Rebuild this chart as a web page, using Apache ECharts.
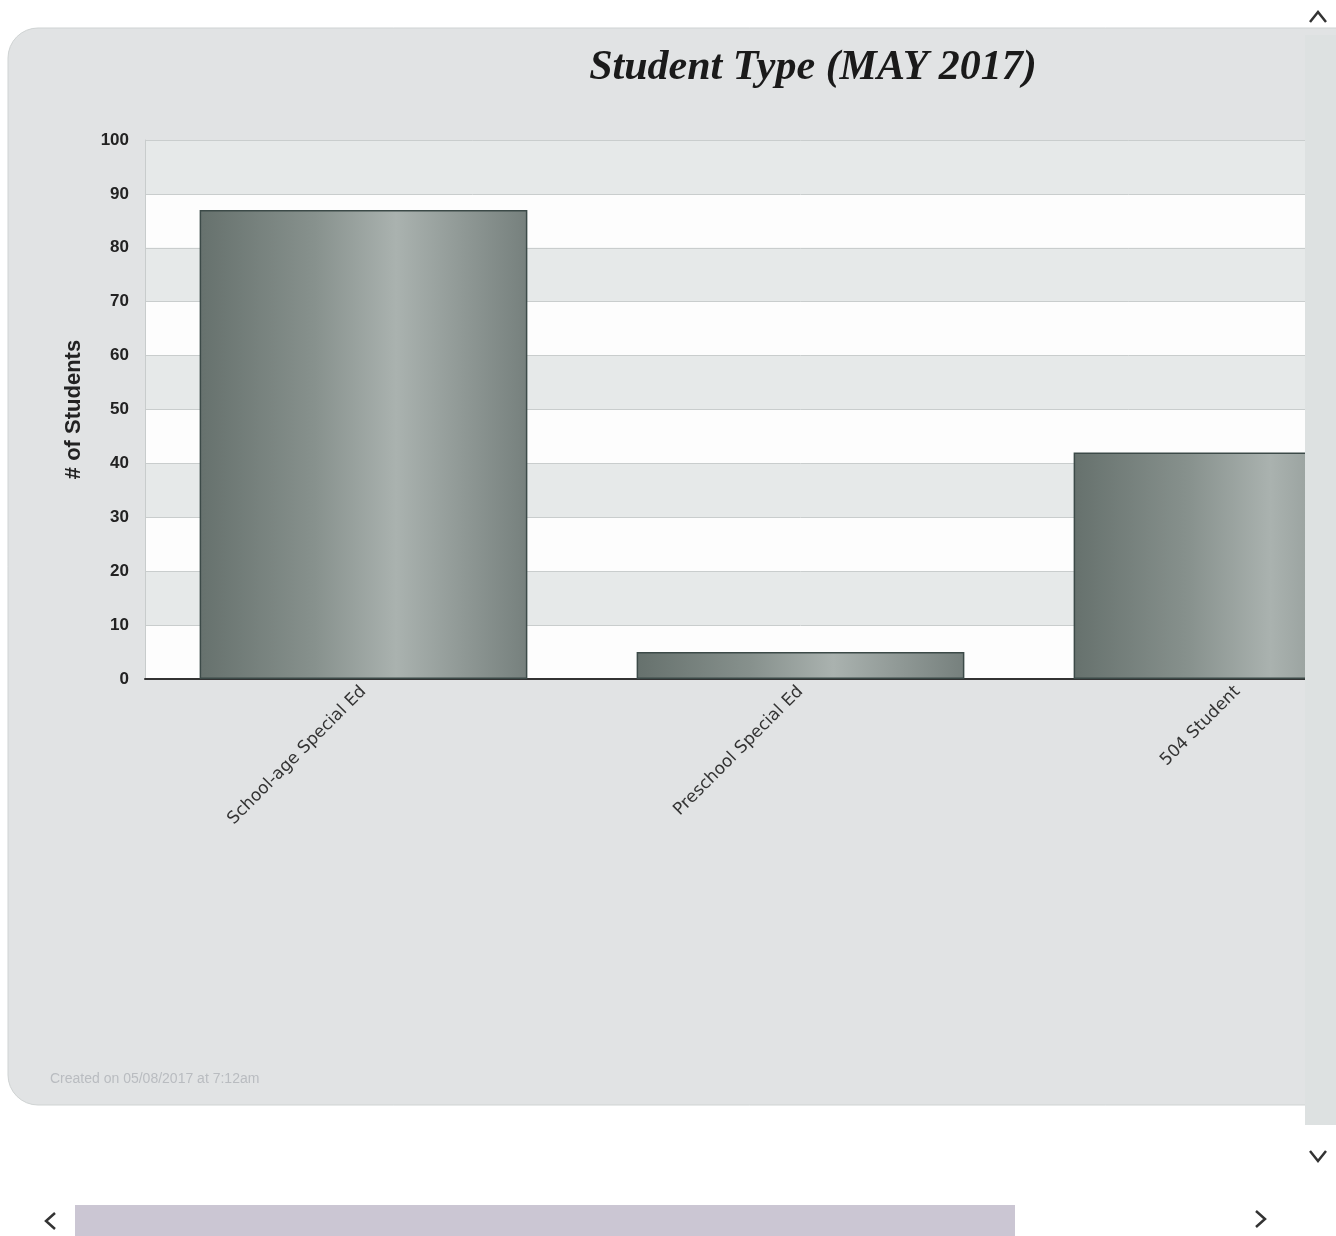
<!DOCTYPE html>
<html>
<head>
<meta charset="utf-8">
<script src="https://cdn.jsdelivr.net/npm/echarts@6/dist/echarts.min.js"></script>
<style>html,body{margin:0;padding:0;background:#fff;overflow:hidden;}#wrap{width:1336px;height:1236px;overflow:hidden;position:relative;}#c{width:1460px;height:1236px;}</style>
</head>
<body>
<div id="wrap"><div id="c"></div></div>
<script>
const categories = ['School-age Special Ed', 'Preschool Special Ed', '504 Student'];
const studentCounts = [87, 5, 42];
const yTicks = [0, 10, 20, 30, 40, 50, 60, 70, 80, 90, 100];
const titleText = 'Student Type (MAY 2017)';
const yAxisName = '# of Students';
const footerText = 'Created on 05/08/2017 at 7:12am';

const chart = echarts.init(document.getElementById('c'), null, {renderer: 'canvas'});
const barGradient = new echarts.graphic.LinearGradient(0, 0, 1, 0, [
  {offset: 0, color: '#66716d'},
  {offset: 0.35, color: '#87918d'},
  {offset: 0.6, color: '#aab2af'},
  {offset: 1, color: '#76807d'}
]);
chart.setOption({
  backgroundColor: '#ffffff',
  animation: false,
  title: {
    text: titleText,
    left: 808, top: 42, textAlign: 'center',
    textStyle: {fontFamily: 'Liberation Serif, DejaVu Serif, serif', fontStyle: 'italic', fontWeight: 'bold', fontSize: 42, color: '#1a1a1a'}
  },
  grid: {left: 145, top: 140, right: 4, height: 539, containLabel: false},
  xAxis: {
    type: 'category',
    data: categories,
    axisLine: {lineStyle: {color: '#333', width: 2}},
    axisTick: {show: false},
    axisLabel: {rotate: 45, fontSize: 17, color: '#333', fontFamily: 'DejaVu Sans, sans-serif', margin: 10, interval: 0}
  },
  yAxis: {
    type: 'value', min: 0, max: 100, interval: 10,
    name: yAxisName, nameLocation: 'middle', nameGap: 60, nameRotate: 90,
    nameTextStyle: {fontFamily: 'Liberation Sans, Arial, sans-serif', fontWeight: 'bold', fontSize: 22, color: '#222'},
    axisLine: {show: true, lineStyle: {color: '#c8cccc', width: 1}},
    axisTick: {show: false},
    axisLabel: {
      fontFamily: 'Liberation Sans, Arial, sans-serif', fontWeight: 'bold', fontSize: 17, color: '#222', margin: 16,
      formatter: v => yTicks.includes(v) ? String(v) : ''
    },
    splitLine: {lineStyle: {color: '#c9cdcd', width: 1}},
    splitArea: {show: true, areaStyle: {color: ['#fdfdfd', '#e6e9e9']}}
  },
  series: [{
    type: 'bar',
    data: studentCounts,
    barCategoryGap: '25%',
    itemStyle: {color: barGradient, borderColor: '#3c4a48', borderWidth: 1.5}
  }],
  graphic: [
    {type: 'rect', z: -10, silent: true, shape: {x: 8, y: 28, width: 1500, height: 1077, r: 30},
     style: {fill: '#e1e3e4', stroke: '#cfd3d3', lineWidth: 1}},
    {type: 'text', z: 5, left: 50, top: 1072, style: {text: footerText, fill: '#b9bcc0', fontSize: 14, fontFamily: 'Liberation Sans, Arial, sans-serif'}},
    {type: 'rect', z: 20, shape: {x: 1305, y: 35, width: 160, height: 1090}, style: {fill: '#dde1e1'}},
    {type: 'rect', z: 20, shape: {x: 1336, y: 0, width: 130, height: 1236}, style: {fill: '#ffffff'}},
    {type: 'polyline', z: 21, shape: {points: [[1310, 22], [1318, 12], [1326, 22]]}, style: {stroke: '#333', lineWidth: 2.5, fill: null}},
    {type: 'polyline', z: 21, shape: {points: [[1310, 1151], [1318, 1161], [1326, 1151]]}, style: {stroke: '#333', lineWidth: 2.5, fill: null}},
    {type: 'rect', z: 20, shape: {x: 75, y: 1205, width: 940, height: 31}, style: {fill: '#cbc6d3'}},
    {type: 'polyline', z: 21, shape: {points: [[55, 1213], [46, 1221], [55, 1229]]}, style: {stroke: '#333', lineWidth: 2.5, fill: null}},
    {type: 'polyline', z: 21, shape: {points: [[1256, 1211], [1265, 1219], [1256, 1227]]}, style: {stroke: '#333', lineWidth: 2.5, fill: null}}
  ]
});
</script>
</body>
</html>
